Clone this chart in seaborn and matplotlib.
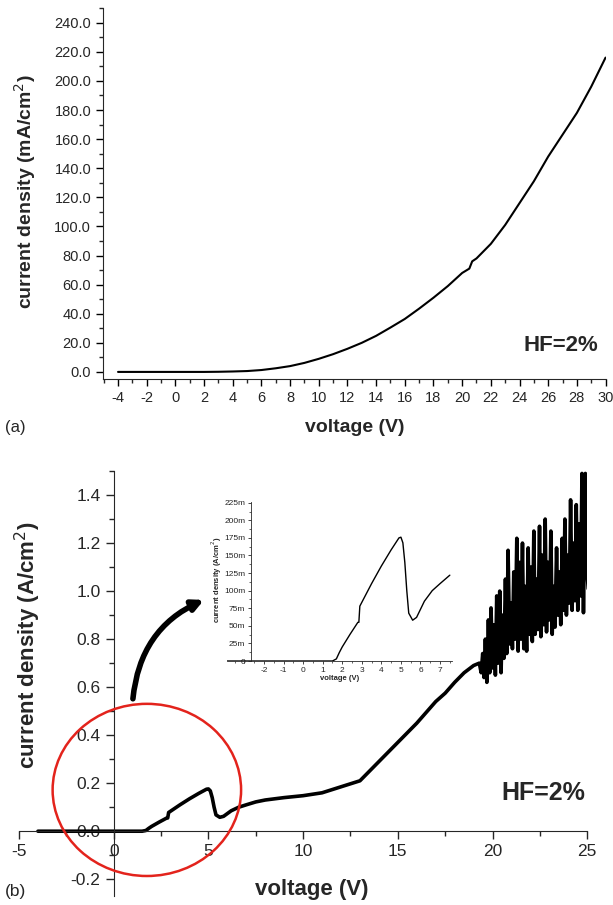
import numpy as np
import pandas as pd
import matplotlib
matplotlib.use('Agg')
import matplotlib.pyplot as plt
from matplotlib.patches import Ellipse, FancyArrowPatch
from matplotlib.ticker import MultipleLocator, FuncFormatter
import seaborn as sns

sns.set_style('ticks')
plt.rcParams['font.family'] = ['Liberation Sans', 'DejaVu Sans']
plt.rcParams['axes.unicode_minus'] = False

# (a) current density (mA/cm2) vs voltage
volt_a = [-4, -3, -2, -1, 0, 1, 2, 3, 4, 5, 6, 7, 8, 9, 10, 11, 12, 13, 14, 15,
          16, 17, 18, 19, 20, 20.5, 20.7, 21, 22, 23, 24, 25, 26, 27, 28, 29, 30]
cur_a = [0, 0, 0, 0, 0, 0, 0, 0.1, 0.3, 0.6, 1.3, 2.5, 4.0, 6.2, 9.0, 12.2, 15.9,
         20.0, 24.8, 30.5, 36.4, 43.5, 51.0, 59.0, 68.0, 71.0, 76.0, 78.0, 88.0,
         101.0, 116.0, 131.0, 148.0, 163.0, 178.0, 196.0, 216.0]

# (b) current density (A/cm2) vs voltage
volt_b = [-4.0, 1.5, 1.7, 1.85, 2.0, 2.4, 2.8, 2.85, 2.9, 3.5, 4.0, 4.5, 4.9, 5.0,
          5.1, 5.2, 5.3, 5.4, 5.6, 5.8, 6.2, 6.6, 7.0, 7.5, 8.0, 9.0, 10.0, 11.0,
          12.0, 13.0, 13.5, 14.0, 15.0, 16.0, 17.0, 17.5, 18.0, 18.5, 19.0,
          19.30, 19.40, 19.48, 19.55, 19.62, 19.70, 19.78, 19.85, 19.92, 20.00,
          20.08, 20.15, 20.22, 20.30, 20.38, 20.45, 20.52, 20.60, 20.68, 20.75,
          20.82, 20.90, 20.98, 21.05, 21.12, 21.20, 21.28, 21.35, 21.42, 21.50,
          21.58, 21.65, 21.72, 21.80, 21.88, 21.95, 22.02, 22.10, 22.18, 22.25,
          22.32, 22.40, 22.48, 22.55, 22.62, 22.70, 22.78, 22.85, 22.92, 23.00,
          23.08, 23.15, 23.22, 23.30, 23.38, 23.45, 23.52, 23.60, 23.68, 23.75,
          23.82, 23.90, 23.98, 24.05, 24.12, 24.20, 24.28, 24.35, 24.42, 24.50,
          24.58, 24.65, 24.72, 24.80, 24.90, 24.97, 25.05]
cur_b = [0.0, 0.0, 0.003, 0.012, 0.02, 0.038, 0.055, 0.055, 0.078, 0.11, 0.135,
         0.158, 0.175, 0.176, 0.168, 0.14, 0.10, 0.068, 0.058, 0.062, 0.085, 0.10,
         0.11, 0.122, 0.13, 0.14, 0.148, 0.16, 0.185, 0.21, 0.25, 0.29, 0.37, 0.45,
         0.54, 0.575, 0.62, 0.66, 0.69,
         0.70, 0.66, 0.74, 0.64, 0.80, 0.62, 0.88, 0.66, 0.93, 0.68,
         0.86, 0.65, 0.98, 0.70, 1.00, 0.66, 0.90, 0.72, 1.05, 0.74,
         1.17, 0.78, 0.95, 0.76, 1.08, 0.80, 1.22, 0.75, 1.12, 0.80,
         1.20, 0.76, 1.02, 0.75, 1.18, 0.82, 1.10, 0.79, 1.25, 0.82,
         1.05, 0.84, 1.27, 0.81, 1.15, 0.86, 1.30, 0.83, 1.12, 0.88,
         1.25, 0.82, 1.02, 0.85, 1.18, 0.90, 1.08, 0.86, 1.22, 0.92,
         1.30, 0.90, 1.15, 0.95, 1.38, 0.92, 1.20, 0.96, 1.36, 0.92,
         1.28, 0.98, 1.49, 0.91, 1.49, 1.10, 1.01]

df_a = pd.DataFrame({'v': volt_a, 'j': cur_a})
df_b = pd.DataFrame({'v': volt_b, 'j': cur_b})
df_in = df_b[df_b['v'] <= 7.55]

fig = plt.figure(figsize=(6.13, 9.05), dpi=100)

# ---- (a)
ax1 = fig.add_axes([0.168, 0.581, 0.821, 0.410])
sns.lineplot(data=df_a, x='v', y='j', ax=ax1, color='black', lw=1.5, estimator=None)
ax1.set_xlim(-5.05, 30.05)
ax1.set_ylim(-5, 250)
ax1.set_xticks(np.arange(-4, 31, 2))
ax1.xaxis.set_minor_locator(MultipleLocator(1))
ax1.yaxis.set_major_locator(MultipleLocator(20))
ax1.yaxis.set_minor_locator(MultipleLocator(10))
ax1.yaxis.set_major_formatter(FuncFormatter(lambda v, p: f'{v:.1f}'))
ax1.set_xlabel('')
ax1.set_ylabel('')
for s in ['top', 'right']:
    ax1.spines[s].set_visible(False)
ax1.tick_params(which='major', direction='out', length=5, width=1, labelsize=10.5, color='black')
ax1.tick_params(which='minor', direction='out', length=3, width=1)
ax1.text(0.984, 0.092, 'HF=2%', transform=ax1.transAxes, ha='right', va='center',
         fontsize=16, fontweight='bold')
fig.text(355 / 613, 1 - 427 / 905, 'voltage (V)', ha='center', va='center',
         fontsize=14, fontweight='bold')
fig.text(25 / 613, 1 - 192 / 905, 'current density (mA/cm$^2$)', ha='center', va='center',
         rotation=90, fontsize=14, fontweight='bold')
fig.text(5 / 613, 1 - 427 / 905, '(a)', ha='left', va='center', fontsize=12)

# ---- (b)
ax2 = fig.add_axes([0.031, 0.0099, 0.927, 0.4696])
sns.lineplot(data=df_b, x='v', y='j', ax=ax2, color='black', lw=2.6, estimator=None)
ax2.set_xlim(-5, 25)
ax2.set_ylim(-0.27, 1.5)
ax2.spines['left'].set_position(('data', 0))
ax2.spines['bottom'].set_position(('data', 0))
for s in ['top', 'right']:
    ax2.spines[s].set_visible(False)
ax2.xaxis.set_major_locator(MultipleLocator(5))
ax2.xaxis.set_minor_locator(MultipleLocator(2.5))
ax2.set_yticks([-0.2, 0.0, 0.2, 0.4, 0.6, 0.8, 1.0, 1.2, 1.4])
ax2.yaxis.set_minor_locator(MultipleLocator(0.1))
ax2.yaxis.set_major_formatter(FuncFormatter(lambda v, p: f'{v:.1f}'))
ax2.set_xlabel('')
ax2.set_ylabel('')
ax2.tick_params(which='major', direction='out', length=6, width=1, labelsize=12.5)
ax2.tick_params(which='minor', direction='out', length=3.5, width=1)
ax2.text(0.996, 0.242, 'HF=2%', transform=ax2.transAxes, ha='right', va='center',
         fontsize=18, fontweight='bold')
fig.text(312 / 613, 1 - 889 / 905, 'voltage (V)', ha='center', va='center',
         fontsize=16, fontweight='bold')
fig.text(28 / 613, 1 - 645 / 905, 'current density (A/cm$^2$)', ha='center', va='center',
         rotation=90, fontsize=16, fontweight='bold')
fig.text(5 / 613, 1 - 891 / 905, '(b)', ha='left', va='center', fontsize=12.5)

ell = Ellipse((1.75, 0.172), 9.95, 0.717, fill=False, edgecolor='#e3231c', lw=1.8,
              clip_on=False, zorder=5)
ax2.add_patch(ell)
arr = FancyArrowPatch((1.0, 0.54), (4.9, 0.968), connectionstyle='arc3,rad=-0.3',
                      arrowstyle='-|>', mutation_scale=16, lw=4, color='black', zorder=5)
ax2.add_patch(arr)

# ---- inset
ax3 = fig.add_axes([0.370, 0.2696, 0.367, 0.1757])
ax3.patch.set_alpha(0)
sns.lineplot(data=df_in, x='v', y='j', ax=ax3, color='black', lw=1.0, estimator=None)
ax3.set_xlim(-3.9, 7.6)
ax3.set_ylim(0, 0.226)
ax3.spines['left'].set_position(('data', -2.67))
for s in ['top', 'right']:
    ax3.spines[s].set_visible(False)
for s in ['left', 'bottom']:
    ax3.spines[s].set_linewidth(0.6)
ax3.set_xticks(range(-2, 8))
ax3.xaxis.set_minor_locator(MultipleLocator(0.5))
ax3.yaxis.set_major_locator(MultipleLocator(0.025))
ax3.yaxis.set_minor_locator(MultipleLocator(0.0125))
ax3.yaxis.set_major_formatter(FuncFormatter(lambda v, p: '0' if abs(v) < 1e-9 else f'{v * 1000:.0f}m'))
ax3.tick_params(which='major', direction='out', length=2.5, width=0.6, labelsize=6, pad=1.5)
ax3.tick_params(which='minor', direction='out', length=1.5, width=0.5)
ax3.set_xlabel('voltage (V)', fontsize=5.5, fontweight='bold', labelpad=1)
ax3.set_ylabel('')
fig.text(217 / 613, 1 - 580 / 905, 'current density (A/cm$^2$)', ha='center', va='center',
         rotation=90, fontsize=5.5, fontweight='bold')

fig.savefig('out.png', dpi=100)
